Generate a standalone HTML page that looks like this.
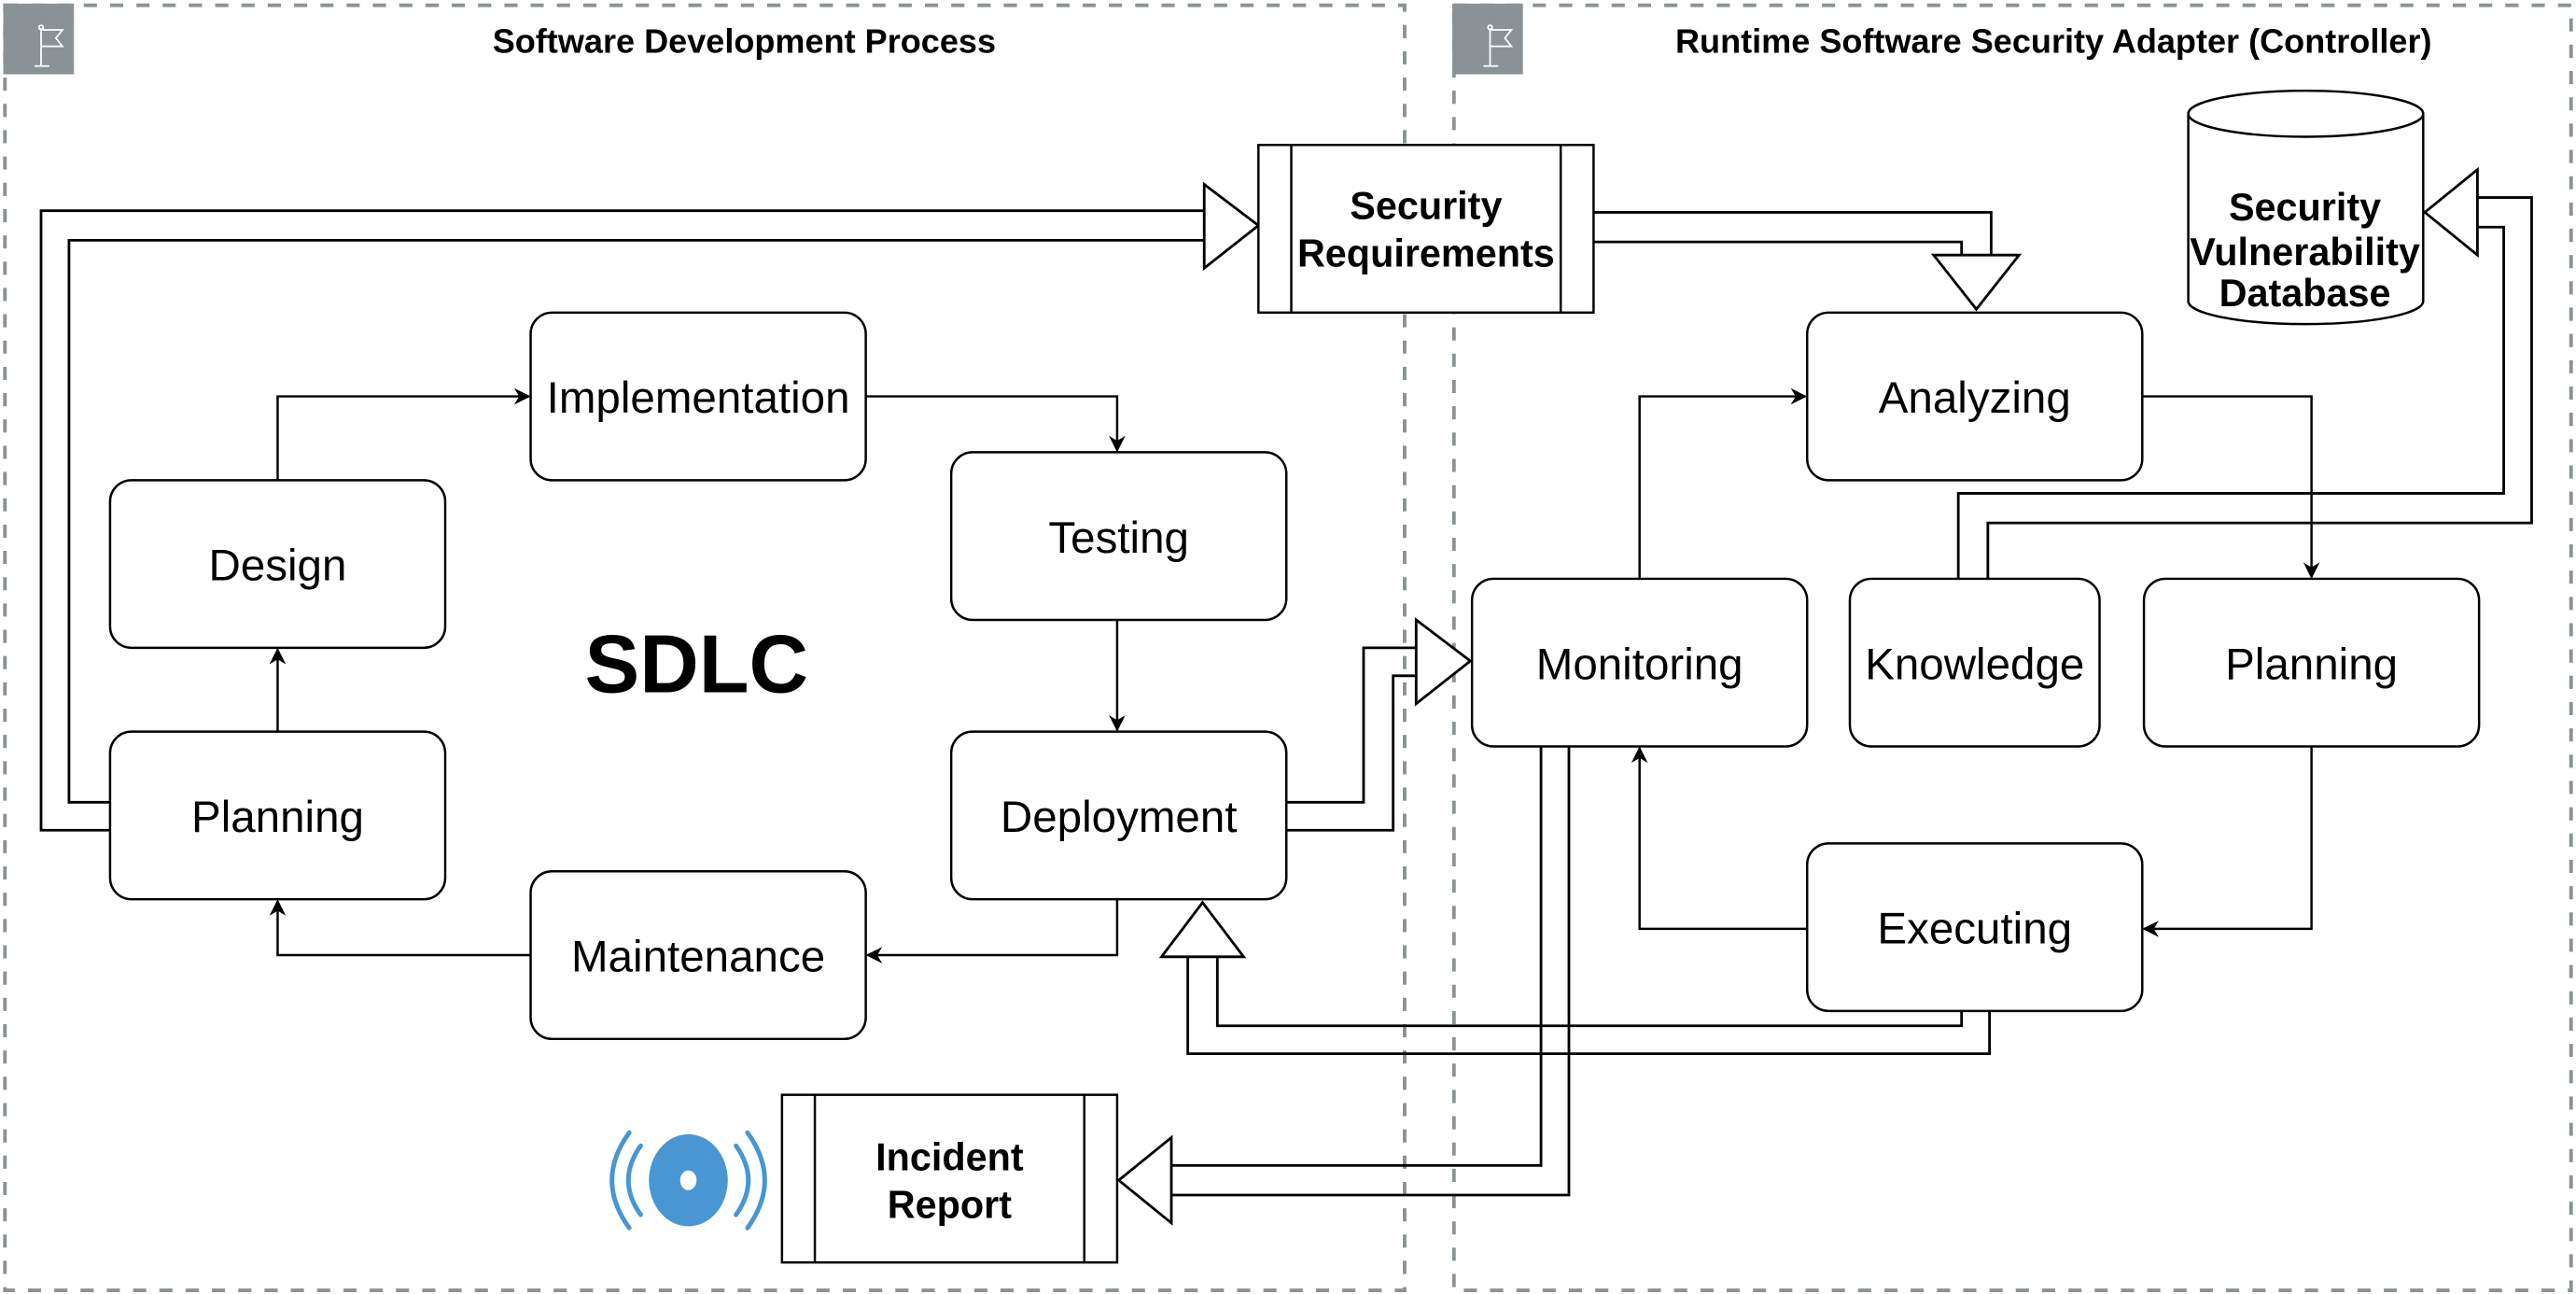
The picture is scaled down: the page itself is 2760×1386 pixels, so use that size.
<!DOCTYPE html>
<html><head><meta charset="utf-8"><style>
html,body{margin:0;padding:0;background:#fff;}
svg{display:block;}
text{font-family:"Liberation Sans",Arial,sans-serif;}
</style></head><body>
<svg width="2760" height="1386" viewBox="0 0 1568 787" xmlns="http://www.w3.org/2000/svg">
<defs>
<marker id="a" viewBox="0 0 10 10" refX="9" refY="5" markerWidth="10" markerHeight="10" markerUnits="userSpaceOnUse" orient="auto">
<path d="M0,0 L10,5 L0,10 L3,5 Z" fill="#000"/></marker>
</defs>
<g fill="none" stroke="#8a9296" stroke-width="2.2" stroke-dasharray="8,8">
<rect x="3" y="3" width="852" height="782"/>
<rect x="885" y="3" width="680" height="782"/>
</g>
<rect x="2" y="2" width="43" height="43" fill="#8a9296"/>
<rect x="884" y="2" width="43" height="43" fill="#8a9296"/>
<g stroke="#fff" stroke-width="1" fill="none">
<path d="M25,17 V40 M21,40 H30 M25,18 H38 L34,23 L38,28 H25"/>
<circle cx="25" cy="16.5" r="1.3"/>
<path d="M907,17 V40 M903,40 H912 M907,18 H920 L916,23 L920,28 H907"/>
<circle cx="907" cy="16.5" r="1.3"/>
</g>
<text x="453" y="32" font-size="20.5" font-weight="bold" text-anchor="middle">Software Development Process</text>
<text x="1250" y="32" font-size="20.5" font-weight="bold" text-anchor="middle">Runtime Software Security Adapter (Controller)</text>

<g fill="none" stroke="#000" stroke-width="1.6">
<polyline points="67,505 25,505 25,128 733,128"/>
<polyline points="67,488 42,488 42,146 733,146"/>
<polygon points="733,128 733,112 766,137 733,163 733,146" fill="#fff"/>
<polyline points="970,129 1212,129 1212,155"/>
<polyline points="970,147 1194,147 1194,155"/>
<polygon points="1194,155 1177,155 1203,188 1229,155 1212,155" fill="#fff"/>
<polyline points="783,488 830,488 830,394 862,394"/>
<polyline points="783,505 848,505 848,411 862,411"/>
<polygon points="862,394 862,377 895,402 862,428 862,411" fill="#fff"/>
<polyline points="1192,352 1192,300 1524,300 1524,138 1508,138"/>
<polyline points="1210,352 1210,318 1541,318 1541,120 1508,120"/>
<polygon points="1508,138 1508,155 1476,129 1508,103 1508,120" fill="#fff"/>
<polyline points="1194,615 1194,624 741,624 741,582"/>
<polyline points="1211,615 1211,641 723,641 723,582"/>
<polygon points="741,582 757,582 732,549 707,582 723,582" fill="#fff"/>
<polyline points="938,454 938,709 713,709"/>
<polyline points="955,454 955,727 713,727"/>
<polygon points="713,709 713,692 681,718 713,744 713,727" fill="#fff"/>
</g>

<g fill="none" stroke="#000" stroke-width="1.4" marker-end="url(#a)">
<polyline points="169,292 169,241 322,241"/>
<polyline points="527,241 680,241 680,274"/>
<polyline points="680,377 680,444"/>
<polyline points="680,547 680,581 528,581"/>
<polyline points="323,581 169,581 169,548"/>
<polyline points="169,445 169,395"/>
<polyline points="998,352 998,241 1099,241"/>
<polyline points="1304,241 1407,241 1407,351"/>
<polyline points="1407,454 1407,565 1305,565"/>
<polyline points="1100,565 998,565 998,455"/>
</g>

<g fill="#fff" stroke="#000" stroke-width="1.4">
<rect x="323" y="190" width="204" height="102" rx="13"/>
<rect x="67" y="292" width="204" height="102" rx="13"/>
<rect x="579" y="275" width="204" height="102" rx="13"/>
<rect x="67" y="445" width="204" height="102" rx="13"/>
<rect x="579" y="445" width="204" height="102" rx="13"/>
<rect x="323" y="530" width="204" height="102" rx="13"/>
<rect x="1100" y="190" width="204" height="102" rx="13"/>
<rect x="896" y="352" width="204" height="102" rx="13"/>
<rect x="1126" y="352" width="152" height="102" rx="13"/>
<rect x="1305" y="352" width="204" height="102" rx="13"/>
<rect x="1100" y="513" width="204" height="102" rx="13"/>
<rect x="766" y="88" width="204" height="102"/>
<line x1="786" y1="88" x2="786" y2="190"/><line x1="950" y1="88" x2="950" y2="190"/>
<rect x="476" y="666" width="204" height="102"/>
<line x1="496" y1="666" x2="496" y2="768"/><line x1="660" y1="666" x2="660" y2="768"/>
<path d="M1332,69 V183 A71.5,14 0 0 0 1475,183 V69 A71.5,14 0 0 0 1332,69 Z"/>
<path d="M1332,69 A71.5,14 0 0 0 1475,69" fill="none"/>
</g>

<g font-size="27" text-anchor="middle">
<text x="425" y="251">Implementation</text>
<text x="169" y="353">Design</text>
<text x="681" y="336">Testing</text>
<text x="169" y="506">Planning</text>
<text x="681" y="506">Deployment</text>
<text x="425" y="591">Maintenance</text>
<text x="1202" y="251">Analyzing</text>
<text x="998" y="413">Monitoring</text>
<text x="1202" y="413">Knowledge</text>
<text x="1407" y="413">Planning</text>
<text x="1202" y="574">Executing</text>
</g>
<text x="424" y="421" font-size="50" font-weight="bold" text-anchor="middle">SDLC</text>
<g font-size="23.5" font-weight="bold" text-anchor="middle">
<text x="868" y="133">Security</text>
<text x="868" y="162">Requirements</text>
<text x="578" y="712">Incident</text>
<text x="578" y="741">Report</text>
<text x="1403" y="134">Security</text>
<text x="1403" y="161">Vulnerability</text>
<text x="1403" y="186">Database</text>
</g>

<g fill="none" stroke="#4a96d2" stroke-width="2.8" stroke-linecap="round">
<path d="M383,689 Q362,718 383,747"/>
<path d="M390,697 Q375,718 390,739"/>
<path d="M455,689 Q476,718 455,747"/>
<path d="M448,697 Q463,718 448,739"/>
</g>
<ellipse cx="419" cy="718" rx="24" ry="28" fill="#4a96d2"/>
<ellipse cx="419" cy="718" rx="5" ry="6" fill="#fff"/>
</svg>
</body></html>
